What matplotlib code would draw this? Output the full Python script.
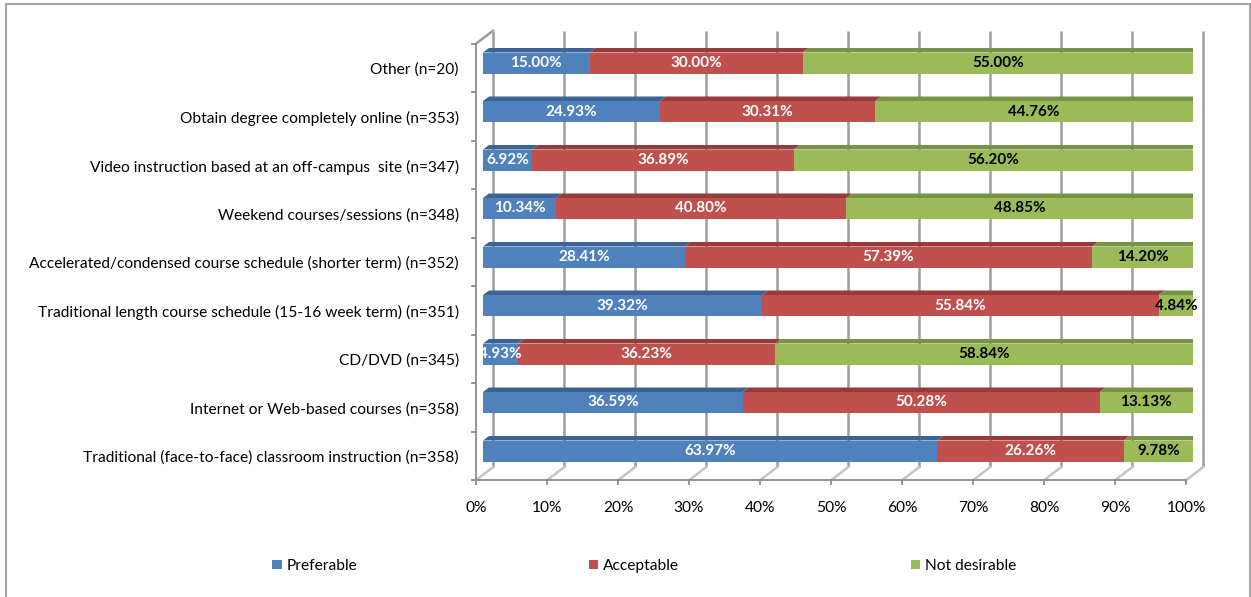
import matplotlib
matplotlib.use("Agg")
import matplotlib.pyplot as plt
from matplotlib.patches import Polygon, Patch
from matplotlib.lines import Line2D
import numpy as np

categories = [
    "Traditional (face-to-face) classroom instruction (n=358)",
    "Internet or Web-based courses (n=358)",
    "CD/DVD (n=345)",
    "Traditional length course schedule (15-16 week term) (n=351)",
    "Accelerated/condensed course schedule (shorter term) (n=352)",
    "Weekend courses/sessions (n=348)",
    "Video instruction based at an off-campus  site (n=347)",
    "Obtain degree completely online (n=353)",
    "Other (n=20)",
]
preferable = [63.97, 36.59, 4.93, 39.32, 28.41, 10.34, 6.92, 24.93, 15.00]
acceptable = [26.26, 50.28, 36.23, 55.84, 57.39, 40.80, 36.89, 30.31, 30.00]
not_desirable = [9.78, 13.13, 58.84, 4.84, 14.20, 48.85, 56.20, 44.76, 55.00]
series_names = ["Preferable", "Acceptable", "Not desirable"]
x_ticks = [0, 10, 20, 30, 40, 50, 60, 70, 80, 90, 100]
x_tick_labels = [f"{t}%" for t in x_ticks]

face_colors = ["#4F81BD", "#C0504D", "#9BBB59"]
top_colors = ["#3B6393", "#963B39", "#789343"]
side_color = "#6B863A"
label_colors = ["white", "white", "black"]

FONT = ["Lato", "DejaVu Sans"]
plt.rcParams["font.family"] = FONT

W, H = 1251, 597
fig = plt.figure(figsize=(W / 100, H / 100), dpi=100)

# figure border
for xs, ys in [((6 / W, 6 / W), (0, 1 - 4 / H)), ((6 / W, 1250 / W), (1 - 4 / H, 1 - 4 / H)),
               ((1250 / W, 1250 / W), (0, 1 - 4 / H))]:
    fig.add_artist(Line2D(xs, ys, color="#a6a6a6", lw=1.5, transform=fig.transFigure))

ax_left, ax_right = 483, 1193
ax_top, ax_bot = 38.75, 475.25
ax = fig.add_axes([ax_left / W, 1 - ax_bot / H, (ax_right - ax_left) / W, (ax_bot - ax_top) / H])
ax.set_xlim(0, 100)
ax.set_ylim(-0.5, len(categories) - 0.5)
ax.axis("off")

dxp = 100 / (ax_right - ax_left)        # data units per pixel (x)
dyp = len(categories) / (ax_bot - ax_top)  # data units per pixel (y)

ylo, yhi = -0.5, len(categories) - 0.5
fx, fy = -7, -5      # front plane pixel offset
bx, by = 10, 8       # back plane pixel offset
grid_c = "#9d9d9d"

# back wall gridlines
for t in x_ticks:
    ax.plot([t + bx * dxp, t + bx * dxp], [ylo + by * dyp, yhi + by * dyp],
            color=grid_c, lw=1.8, zorder=1, clip_on=False, solid_capstyle="butt")
    # floor diagonals
    ax.plot([t + fx * dxp, t + bx * dxp], [ylo + fy * dyp, ylo + by * dyp],
            color="#c4c4c4", lw=1.8, zorder=1, clip_on=False)
# front floor edge and left axis
ax.plot([0 + fx * dxp, 100 + fx * dxp], [ylo + fy * dyp, ylo + fy * dyp],
        color="#8c8c8c", lw=1.3, zorder=2, clip_on=False)
ax.plot([0 + fx * dxp, 0 + fx * dxp], [ylo + fy * dyp, yhi + fy * dyp],
        color="#8c8c8c", lw=1.3, zorder=2, clip_on=False)
ax.plot([0 + fx * dxp, 0 + bx * dxp], [yhi + fy * dyp, yhi + by * dyp],
        color=grid_c, lw=1.8, zorder=1, clip_on=False)
for yb in np.arange(ylo, yhi + 0.01, 1.0):
    ax.plot([0 + fx * dxp, 0 + (fx - 4) * dxp], [yb + fy * dyp, yb + fy * dyp],
            color="#8c8c8c", lw=1.3, zorder=2, clip_on=False)
for t in x_ticks:
    ax.plot([t + fx * dxp, t + fx * dxp], [ylo + fy * dyp, ylo + (fy - 4) * dyp],
            color="#8c8c8c", lw=1.3, zorder=2, clip_on=False)

# bars
y = np.arange(len(categories))
h = 21 * dyp
depth_x, depth_y = 6 * dxp, 4.5 * dyp
series = [preferable, acceptable, not_desirable]
left = np.zeros(len(categories))
for s, vals in enumerate(series):
    vals = np.array(vals)
    ax.barh(y, vals, left=left, height=h, color=face_colors[s], zorder=3, linewidth=0)
    for i in range(len(categories)):
        l, w = left[i], vals[i]
        top = y[i] + h / 2
        ax.add_patch(Polygon([(l, top), (l + w, top), (l + w + depth_x, top + depth_y),
                              (l + depth_x, top + depth_y)], closed=True,
                             facecolor=top_colors[s], edgecolor="none", zorder=3))
        ax.text(l + w / 2, y[i], f"{w:.2f}%", ha="center", va="center",
                color=label_colors[s], fontsize=11, fontweight="bold", zorder=5)
    left = left + vals
for i in range(len(categories)):
    r = left[i]
    ax.add_patch(Polygon([(r, y[i] - h / 2), (r, y[i] + h / 2),
                          (r + depth_x, y[i] + h / 2 + depth_y), (r + depth_x, y[i] - h / 2 + depth_y)],
                         closed=True, facecolor=side_color, edgecolor="none", zorder=3))

# category labels
for i, c in enumerate(categories):
    ax.text(-24 * dxp, y[i] - 7 * dyp, c, ha="right", va="center", fontsize=11.2,
            color="#000000", clip_on=False)
# x tick labels
for t, lab in zip(x_ticks, x_tick_labels):
    ax.text(t + fx * dxp, ylo - 33 * dyp, lab, ha="center", va="center", fontsize=11.2,
            color="#000000", clip_on=False)

handles = [Patch(facecolor=face_colors[k], edgecolor="none") for k in range(3)]
fig.legend(handles, series_names, loc="center", bbox_to_anchor=(0.515, 1 - 566 / H), ncol=3,
           frameon=False, fontsize=11.2, handlelength=0.6, handleheight=0.6,
           handletextpad=0.3, columnspacing=14.9)

fig.savefig("out.png", dpi=100)
